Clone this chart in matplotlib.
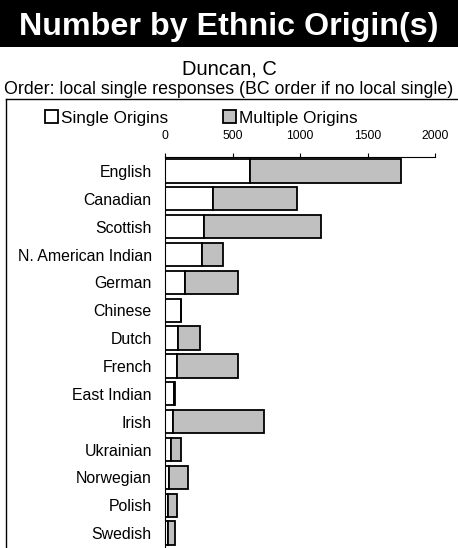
import matplotlib.pyplot as plt
from matplotlib.patches import Rectangle
from matplotlib.lines import Line2D

plt.rcParams['font.family'] = ['Liberation Sans', 'DejaVu Sans']

# Data
categories = ['English', 'Canadian', 'Scottish', 'N. American Indian', 'German',
              'Chinese', 'Dutch', 'French', 'East Indian', 'Irish', 'Ukrainian',
              'Norwegian', 'Polish', 'Swedish']
single = [627, 356, 286, 271, 151, 116, 99, 86, 69, 59, 44, 30, 25, 25]
multiple = [1119, 624, 869, 156, 387, 4, 158, 452, 6, 672, 74, 143, 66, 51]
ticks = [0, 500, 1000, 1500, 2000]

W, H = 458, 548
fig = plt.figure(figsize=(W / 100, H / 100), dpi=100)

# title band
fig.patches.append(Rectangle((0, 1 - 47 / H), 1, 47 / H, transform=fig.transFigure,
                             facecolor='black', edgecolor='none'))
fig.text(0.5, 1 - 27 / H, 'Number by Ethnic Origin(s)', color='white', fontsize=23.2,
         fontweight='bold', ha='center', va='center')
fig.text(0.5, 1 - 69 / H, 'Duncan, C', fontsize=14.5, ha='center', va='center')
fig.text(0.5, 1 - 89 / H, 'Order: local single responses (BC order if no local single)',
         fontsize=12.8, ha='center', va='center')

# frame lines
fig.lines.append(Line2D([6 / W, 1], [1 - 99 / H, 1 - 99 / H], transform=fig.transFigure,
                        color='black', lw=1))
fig.lines.append(Line2D([6 / W, 6 / W], [0, 1 - 99 / H], transform=fig.transFigure,
                        color='black', lw=1))

ax = fig.add_axes([165 / W, 1 / H, 270 / W, (547 - 157) / H])
y = range(len(categories))
b1 = ax.barh(y, single, height=0.84, color='white', edgecolor='black', linewidth=1.3,
             label='Single Origins')
b2 = ax.barh(y, multiple, left=single, height=0.84, color='#c0c0c0', edgecolor='black',
             linewidth=1.3, label='Multiple Origins')

ax.set_xlim(0, 2000)
ax.set_ylim(len(categories) - 0.5, -0.5)
ax.set_yticks(list(y))
ax.set_yticklabels(categories, fontsize=11.4)
ax.set_xticks(ticks)
ax.set_xticklabels([str(t) for t in ticks], fontsize=8.7)
ax.xaxis.tick_top()
ax.tick_params(axis='x', direction='out', length=3, width=0.8, pad=8)
ax.tick_params(axis='y', length=0, pad=9.5)
for s in ['right', 'bottom']:
    ax.spines[s].set_visible(False)
ax.spines['top'].set_linewidth(0.8)
ax.spines['left'].set_linewidth(0.8)

fig.legend(handles=[b1, b2], loc='center', bbox_to_anchor=(0.44, 1 - 118 / H), ncol=2,
           frameon=False, fontsize=12.3, handlelength=0.75, handleheight=0.75,
           handletextpad=0.2, columnspacing=3.2, borderpad=0)

fig.savefig('out.png', dpi=100)
